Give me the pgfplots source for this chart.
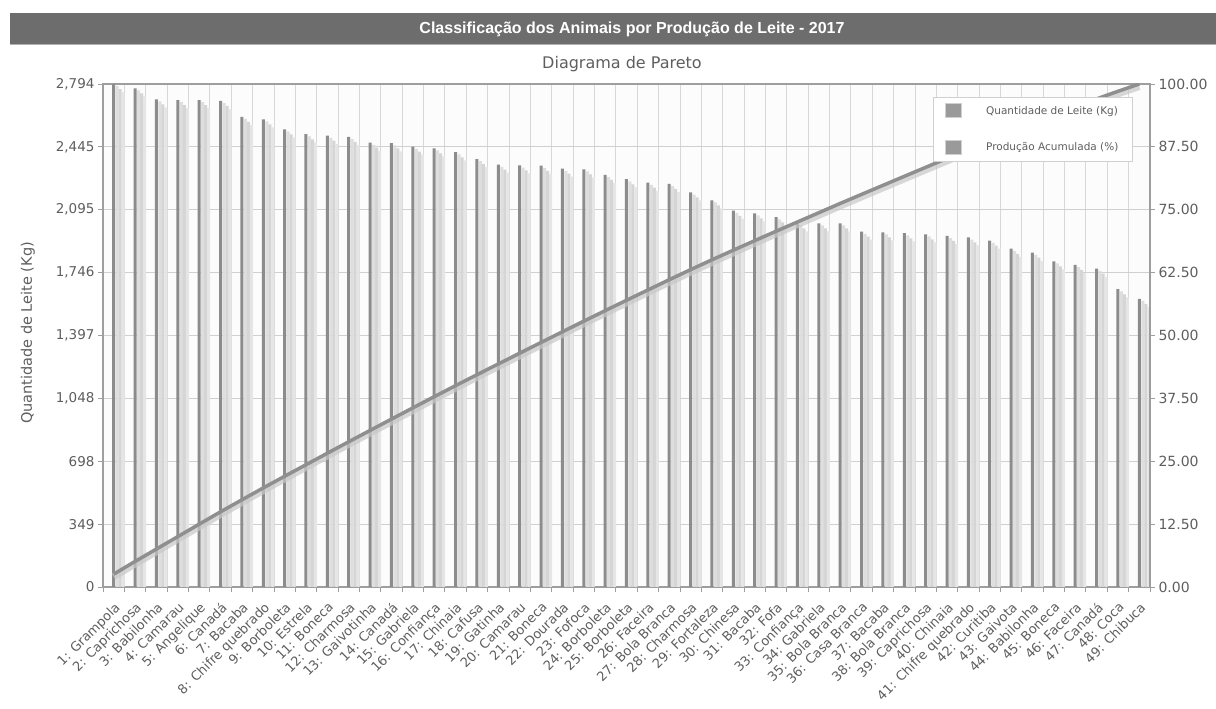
\documentclass[border=0pt]{standalone}
\usepackage{fontspec}
\setmainfont{DejaVu Sans}
\newfontfamily\titlefont{Liberation Sans}
\usepackage{pgfplots}
\pgfplotsset{compat=1.18}
\usepackage{pgfplotstable}

\definecolor{barbg}{HTML}{6D6D6D}
\definecolor{txt}{HTML}{5E5E5E}
\definecolor{bardark}{HTML}{8C8C8C}
\definecolor{shadow}{HTML}{DEDEDE}
\definecolor{hgrid}{HTML}{D0D0D0}
\definecolor{vgrid}{HTML}{D8D8D8}
\definecolor{axisc}{HTML}{9E9E9E}
\definecolor{plotbg}{HTML}{FCFCFC}
\definecolor{linec}{HTML}{8F8F8F}
\definecolor{lineshadow}{HTML}{C8C8C8}
\definecolor{legsq}{HTML}{9A9A9A}

\pgfplotstableread{
x v c
1 2794 2.548
2 2770 5.075
3 2709 7.546
4 2705 10.013
5 2705 12.480
6 2700 14.943
7 2612 17.325
8 2598 19.695
9 2542 22.013
10 2515 24.307
11 2507 26.594
12 2500 28.874
13 2468 31.125
14 2465 33.374
15 2446 35.604
16 2437 37.828
17 2415 40.030
18 2377 42.198
19 2346 44.338
20 2342 46.474
21 2340 48.609
22 2324 50.728
23 2320 52.844
24 2289 54.932
25 2265 56.998
26 2246 59.046
27 2239 61.089
28 2192 63.088
29 2148 65.047
30 2090 66.953
31 2076 68.847
32 2054 70.720
33 2020 72.563
34 2020 74.405
35 2020 76.248
36 1974 78.048
37 1970 79.845
38 1965 81.637
39 1959 83.424
40 1950 85.203
41 1942 86.974
42 1924 88.729
43 1879 90.443
44 1857 92.137
45 1809 93.787
46 1789 95.419
47 1768 97.031
48 1654 98.540
49 1601 100.000
}\data

\begin{document}
\begin{tikzpicture}
\useasboundingbox (0pt,0pt) rectangle (1216pt,709pt);
\fill[barbg] (10pt,664pt) rectangle (1216pt,696pt);
\draw[gray!60, line width=1pt] (10pt,664pt) -- (1216pt,664pt);
\node[text=white, font=\titlefont\bfseries\fontsize{16}{19}\selectfont] at (632pt,680pt)
  {Classificação dos Animais por Produção de Leite - 2017};
\node[text=txt, font=\fontsize{16}{18}\selectfont] at (622pt,645pt) {Diagrama de Pareto};

\begin{axis}[
  at={(103pt,122pt)}, anchor=south west,
  scale only axis, width=1047pt, height=503pt,
  xmin=0.5, xmax=49.5, ymin=0, ymax=2794,
  axis background/.style={fill=plotbg},
  axis line style={draw=axisc, line width=1.6pt},
  xtick={1,...,49},
  xticklabels={1: Grampola, 2: Caprichosa, 3: Babilonha, 4: Camarau, 5: Angelique, 6: Canadá, 7: Bacaba, 8: Chifre quebrado, 9: Borboleta, 10: Estrela, 11: Boneca, 12: Charmosa, 13: Gaivotinha, 14: Canadá, 15: Gabriela, 16: Confiança, 17: Chinaia, 18: Cafusa, 19: Gatinha, 20: Camarau, 21: Boneca, 22: Dourada, 23: Fofoca, 24: Borboleta, 25: Borboleta, 26: Faceira, 27: Bola Branca, 28: Charmosa, 29: Fortaleza, 30: Chinesa, 31: Bacaba, 32: Fofa, 33: Confiança, 34: Gabriela, 35: Bola Branca, 36: Casa Branca, 37: Bacaba, 38: Bola Branca, 39: Caprichosa, 40: Chinaia, 41: Chifre quebrado, 42: Curitiba, 43: Gaivota, 44: Babilonha, 45: Boneca, 46: Faceira, 47: Canadá, 48: Coca, 49: Chibuca},
  major x tick style={draw=none},
  minor xtick={0.5,1.5,...,49.5},
  minor x tick style={draw=axisc, line width=0.8pt},
  minor tick length=5pt,
  xminorgrids,
  minor x grid style={draw=vgrid, line width=0.8pt},
  ytick={0,349.25,698.5,1047.75,1397,1746.25,2095.5,2444.75,2794},
  yticklabels={0,349,698,{1,048},{1,397},{1,746},{2,095},{2,445},{2,794}},
  ymajorgrids,
  major y grid style={draw=hgrid, line width=0.8pt},
  ytick pos=left, xtick pos=bottom,
  tick align=outside,
  major tick length=5pt,
  major y tick style={draw=axisc, line width=0.8pt},
  yticklabel style={font=\fontsize{13.5}{15}\selectfont, text=txt},
  xticklabel style={rotate=45, anchor=north east, font=\fontsize{13}{15}\selectfont, text=txt, inner sep=1pt, xshift=-5.5pt, yshift=-5.5pt},
  ylabel={Quantidade de Leite (Kg)},
  ylabel style={at={(axis description cs:-0.0717,0.505)}, anchor=center, font=\fontsize{14.5}{17}\selectfont, text=txt},
]
\addplot[ybar, bar width=3pt, bar shift=3.5pt, fill=shadow, draw=none] table[x=x, y expr=\thisrow{v}-12] {\data};
\addplot[ybar, bar width=3pt, bar shift=6.5pt, fill=shadow!90!gray, draw=none] table[x=x, y expr=\thisrow{v}-28] {\data};
\addplot[ybar, bar width=3pt, bar shift=9.5pt, fill=shadow!80!white, draw=none] table[x=x, y expr=\thisrow{v}-45] {\data};
\addplot[ybar, bar width=3pt, bar shift=0pt, fill=bardark, draw=none] table[x=x, y=v] {\data};
\end{axis}

\begin{axis}[
  at={(103pt,122pt)}, anchor=south west,
  scale only axis, width=1047pt, height=503pt,
  xmin=0.5, xmax=49.5, ymin=0, ymax=100,
  axis x line=none,
  axis y line*=right,
  axis line style={draw=axisc, line width=1.6pt},
  ytick={0,12.5,25,37.5,50,62.5,75,87.5,100},
  yticklabels={0.00,12.50,25.00,37.50,50.00,62.50,75.00,87.50,100.00},
  tick align=outside,
  major tick length=5pt,
  major y tick style={draw=axisc, line width=0.8pt},
  yticklabel style={font=\fontsize{14}{16}\selectfont, text=txt},
  legend image code/.code={\draw[fill=legsq, draw=hgrid, line width=0.8pt] (0pt,-7pt) rectangle (16pt,7pt);},
  legend style={at={(0.7927,0.974)}, anchor=north west, draw=hgrid, line width=0.8pt, fill=white,
    font=\fontsize{10.5}{12}\selectfont, text=txt, row sep=22pt, inner xsep=12pt, inner ysep=6pt,
    /tikz/every odd column/.append style={column sep=22pt}},
  legend cell align=left,
]
\addplot[draw=lineshadow, line width=7pt, opacity=0.7, forget plot] table[x=x, y expr=\thisrow{c}-0.5] {\data};
\addplot[draw=linec, line width=3.5pt, forget plot] table[x=x, y=c] {\data};
\addlegendimage{}
\addlegendentry{Quantidade de Leite (Kg)}
\addlegendimage{}
\addlegendentry{Produção Acumulada (\%)}
\end{axis}
\end{tikzpicture}
\end{document}
